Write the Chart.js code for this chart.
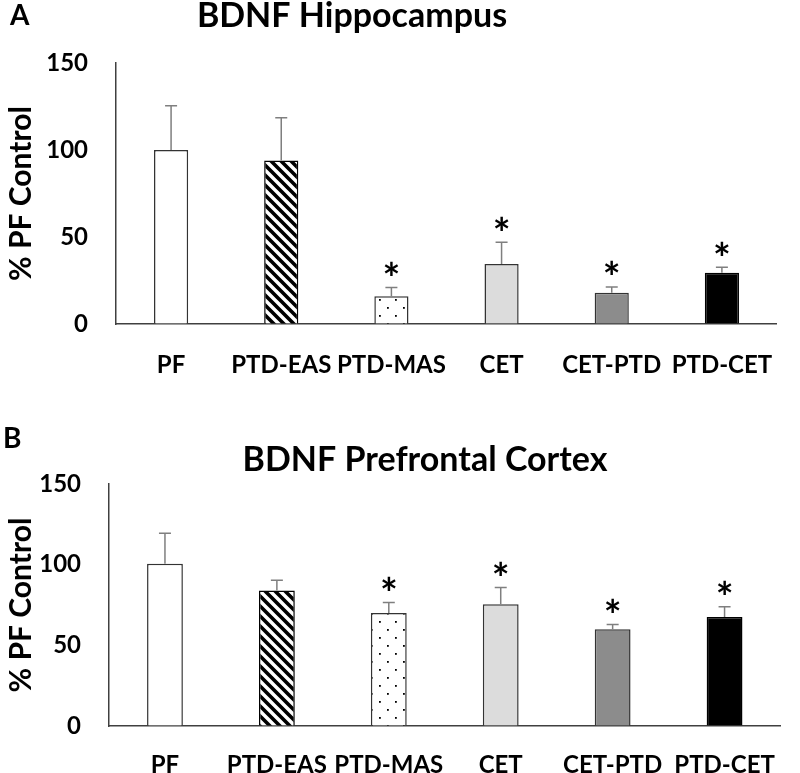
<!DOCTYPE html>
<html>
<head>
<meta charset="utf-8">
<script src="https://cdn.jsdelivr.net/npm/chart.js@4.4.0/dist/chart.umd.min.js"></script>
<style>
  body { margin: 0; background: #fff; }
  #wrap { position: relative; width: 800px; height: 773px; overflow: hidden; }
  canvas { position: absolute; left: 0; }
  #hippo { top: 0; }
  #pfc { top: 386px; }
</style>
</head>
<body>
<div id="wrap">
  <canvas id="hippo" width="800" height="386"></canvas>
  <canvas id="pfc" width="800" height="387"></canvas>
</div>
<script>
const groups = ["PF", "PTD-EAS", "PTD-MAS", "CET", "CET-PTD", "PTD-CET"];
const yTicks = [0, 50, 100, 150];

// panel A - hippocampus (% of PF control, mean and upper SEM)
const hippoMean = [100, 94, 16, 34.5, 18, 29.5];
const hippoSem = [25.5, 24.5, 5, 12.5, 3.3, 3.1];
const hippoSig = [false, false, true, true, true, true];

// panel B - prefrontal cortex
const pfcMean = [100.5, 84, 70, 75.5, 60, 67.5];
const pfcSem = [19, 6.4, 6.6, 10.3, 2.9, 6.4];
const pfcSig = [false, false, true, true, true, true];

const FONT = "Lato";

const stripePattern = () => {
    const c = document.createElement("canvas");
    c.width = 10;
    c.height = 10;
    const g = c.getContext("2d");
    g.fillStyle = "#fff";
    g.fillRect(0, 0, 10, 10);
    g.strokeStyle = "#000";
    g.lineWidth = 3.6;
    g.beginPath();
    g.moveTo(-5, -5); g.lineTo(15, 15);
    g.moveTo(-5, 5); g.lineTo(5, 15);
    g.moveTo(5, -5); g.lineTo(15, 5);
    g.stroke();
    return g.createPattern(c, "repeat");
};

const dotPattern = () => {
    const c = document.createElement("canvas");
    c.width = 16;
    c.height = 16;
    const g = c.getContext("2d");
    g.fillStyle = "#fff";
    g.fillRect(0, 0, 16, 16);
    g.fillStyle = "#000";
    g.fillRect(3, 3, 1.8, 1.8);
    g.fillRect(11, 11, 1.8, 1.8);
    return g.createPattern(c, "repeat");
};

const barFills = () => ["#ffffff", stripePattern(), dotPattern(), "#dcdcdc", "#8c8c8c", "#000000"];
const barBorders = ["#333", "#000", "#333", "#333", "#333", "#000"];

// upper error bars + significance stars
const errorBars = {
    id: "errorBars",
    afterDatasetsDraw(chart, args, opts) {
        const {ctx} = chart;
        const yScale = chart.scales.y;
        const meta = chart.getDatasetMeta(0);
        const means = chart.data.datasets[0].data;
        ctx.save();
        meta.data.forEach((bar, i) => {
            const yTop = yScale.getPixelForValue(means[i] + opts.sem[i]);
            ctx.strokeStyle = "#7f7f7f";
            ctx.lineWidth = 1.5;
            ctx.beginPath();
            ctx.moveTo(bar.x, bar.y);
            ctx.lineTo(bar.x, yTop);
            ctx.moveTo(bar.x - 6, yTop);
            ctx.lineTo(bar.x + 6, yTop);
            ctx.stroke();
            if (opts.sig[i]) {
                ctx.fillStyle = "#000";
                ctx.font = `bold 42px ${FONT}`;
                ctx.textAlign = "center";
                ctx.textBaseline = "middle";
                ctx.fillText("*", bar.x, yTop - 7);
            }
        });
        ctx.restore();
    }
};

const panelText = {
    id: "panelText",
    afterDraw(chart, args, opts) {
        const {ctx} = chart;
        ctx.save();
        ctx.fillStyle = "#000";
        ctx.textBaseline = "middle";
        ctx.font = `bold 28px ${FONT}`;
        ctx.textAlign = "left";
        ctx.fillText(opts.letter, opts.letterX, opts.letterY);
        ctx.font = `bold 34px ${FONT}`;
        ctx.textAlign = "center";
        ctx.fillText(opts.title, opts.titleX, opts.titleY);
        ctx.restore();
    }
};

const makeChart = (canvasId, means, sem, sig, box, text) => {
    const config = {
        type: "bar",
        data: {
            labels: groups,
            datasets: [{
                data: means,
                backgroundColor: barFills(),
                borderColor: barBorders,
                borderWidth: 1.5,
                barPercentage: box.barPct,
                categoryPercentage: 1,
            }],
        },
        options: {
            responsive: false,
            animation: false,
            layout: {padding: {top: box.top, right: box.right, left: 0, bottom: 0}},
            plugins: {
                legend: {display: false},
                tooltip: {enabled: false},
                errorBars: {sem: sem, sig: sig},
                panelText: text,
            },
            scales: {
                x: {
                    grid: {display: true, drawOnChartArea: false, drawTicks: false},
                    border: {display: true, color: "#404040", width: 1.5},
                    ticks: {
                        color: "#000",
                        font: {family: FONT, size: 24, weight: "bold"},
                        padding: box.xPad,
                        autoSkip: false,
                        maxRotation: 0,
                    },
                    afterFit: (s) => { s.height = box.xHeight; },
                },
                y: {
                    min: 0,
                    max: 150,
                    grid: {display: true, drawOnChartArea: false, drawTicks: false},
                    border: {display: true, color: "#404040", width: 1.5},
                    afterBuildTicks: (s) => { s.ticks = yTicks.map((v) => ({value: v})); },
                    ticks: {
                        color: "#000",
                        font: {family: FONT, size: 24, weight: "bold"},
                        padding: 28,
                    },
                    title: {
                        display: true,
                        text: "% PF Control",
                        color: "#000",
                        font: {family: FONT, size: 30, weight: "bold"},
                        padding: {top: 3, bottom: 0},
                    },
                    afterFit: (s) => { s.width = box.left; },
                },
            },
        },
        plugins: [errorBars, panelText],
    };
    return new Chart(document.getElementById(canvasId), config);
};

makeChart("hippo", hippoMean, hippoSem, hippoSig,
    {top: 63, right: 10, left: 116, xHeight: 62, xPad: 27, barPct: 0.31},
    {letter: "A", letterX: 10, letterY: 16, title: "BDNF Hippocampus", titleX: 352, titleY: 16});

makeChart("pfc", pfcMean, pfcSem, pfcSig,
    {top: 98, right: 2, left: 109, xHeight: 47, xPad: 25, barPct: 0.32},
    {letter: "B", letterX: 3, letterY: 53, title: "BDNF Prefrontal Cortex", titleX: 425, titleY: 74});
</script>
</body>
</html>
